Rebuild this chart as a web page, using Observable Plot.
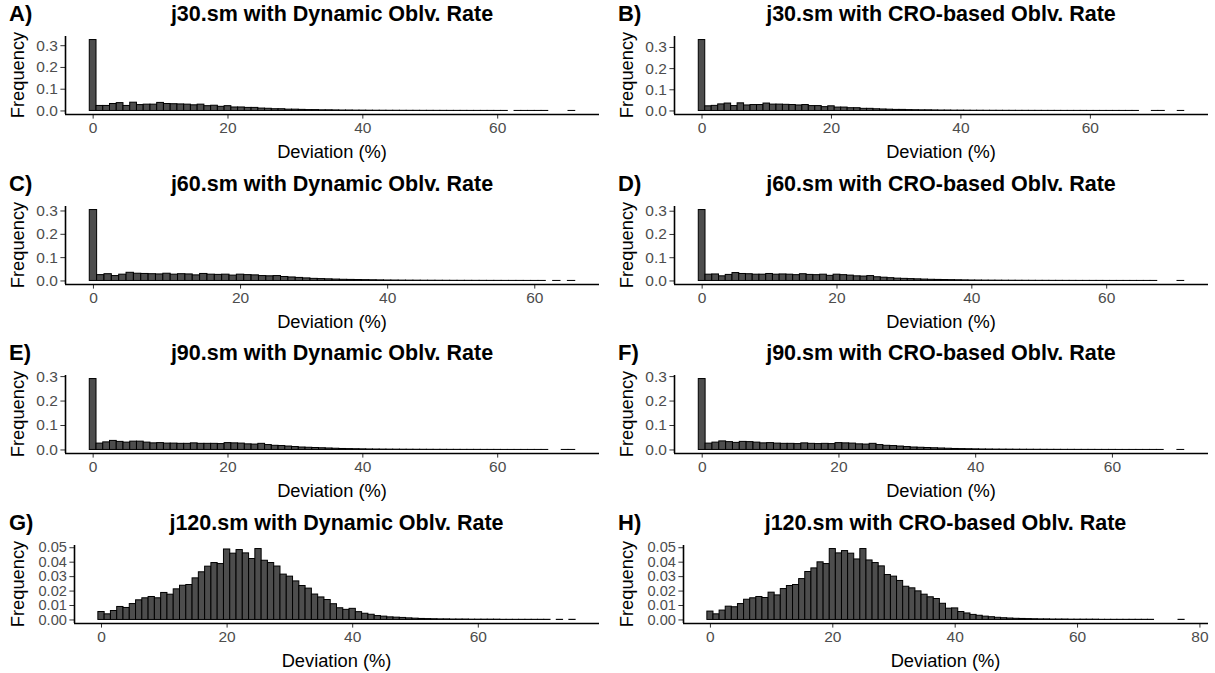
<!DOCTYPE html>
<html>
<head>
<meta charset="utf-8">
<script src="https://cdn.jsdelivr.net/npm/d3@7"></script>
<script src="https://cdn.jsdelivr.net/npm/@observablehq/plot@0.6"></script>
<style>
  body { margin: 0; background: #fff; font-family: "Liberation Sans", Arial, sans-serif; }
  #root { position: relative; width: 1215px; height: 673px; overflow: hidden; background: #fff; }
  .cell { position: absolute; height: 168px; }
  .cell svg { position: absolute; left: 0; top: 0; display: block; }
  .tag { position: absolute; font-weight: bold; font-size: 22px; line-height: 1; color: #000; }
  .title { position: absolute; font-weight: bold; font-size: 21.5px; line-height: 1; color: #000; transform: translateX(-50%); white-space: nowrap; }
  .xlab { position: absolute; font-size: 18.3px; line-height: 1; color: #000; transform: translate(-50%, -50%); white-space: nowrap; }
  .ylab { position: absolute; font-size: 18.3px; line-height: 1; color: #000; transform: translate(-50%, -50%) rotate(-90deg); white-space: nowrap; }
</style>
</head>
<body>
<div id="root"></div>
<script>
// ---- data: relative frequency per deviation bin (index = deviation %, null = no bar) ----
const freqA = [0.326,
  0.023,0.023,0.032,0.036,0.023,0.038,0.027,0.029,0.029,0.037,
  0.032,0.031,0.030,0.029,0.026,0.029,0.022,0.024,0.019,0.022,
  0.016,0.016,0.014,0.014,0.011,0.010,0.008,0.008,0.006,0.006,
  0.005,0.004,0.004,0.003,0.003,0.0025,0.002,0.002,0.0015,0.0015,
  0.0012,0.001,0.001,0.0008,0.0008,0.0007,0.0006,0.0006,0.0005,0.0005,
  0.0004,0.0004,0.0003,0.0003,0.0003,0.0002,0.0002,0.0002,0.0002,0.0001,
  0.0001,null,0.0001,0.0001,0.0001,0.0001,0.0001,null,null,null,
  0.0001];
const freqB = [0.335,
  0.022,0.024,0.031,0.035,0.023,0.036,0.026,0.028,0.028,0.035,
  0.030,0.030,0.029,0.028,0.026,0.028,0.023,0.023,0.018,0.022,
  0.016,0.016,0.013,0.013,0.010,0.010,0.008,0.007,0.006,0.005,
  0.005,0.004,0.0035,0.003,0.003,0.0025,0.002,0.002,0.0015,0.0015,
  0.0012,0.001,0.001,0.0008,0.0008,0.0007,0.0006,0.0006,0.0005,0.0005,
  0.0004,0.0004,0.0003,0.0003,0.0003,0.0002,0.0002,0.0002,0.0002,0.0001,
  0.0001,0.0001,0.0001,0.0001,0.0001,0.0001,0.0001,null,null,0.0001,
  0.0001,null,null,0.0001];
const freqC = [0.304,
  0.025,0.029,0.021,0.027,0.035,0.031,0.030,0.029,0.028,0.031,
  0.027,0.029,0.028,0.024,0.030,0.027,0.026,0.027,0.023,0.027,
  0.025,0.024,0.021,0.020,0.021,0.017,0.015,0.013,0.011,0.009,
  0.008,0.007,0.006,0.005,0.0045,0.004,0.0035,0.003,0.0025,0.002,
  0.0018,0.0015,0.0013,0.0012,0.001,0.0009,0.0008,0.0007,0.0006,0.0005,
  0.0005,0.0004,0.0004,0.0003,0.0003,0.0002,0.0002,0.0002,0.0001,0.0001,
  0.0001,null,0.0001,null,0.0001];
const freqD = [0.305,
  0.027,0.028,0.020,0.026,0.034,0.030,0.029,0.027,0.027,0.030,
  0.027,0.028,0.027,0.025,0.029,0.026,0.025,0.027,0.022,0.027,
  0.025,0.023,0.020,0.019,0.021,0.016,0.014,0.012,0.010,0.009,
  0.008,0.007,0.006,0.005,0.0045,0.004,0.0035,0.003,0.0025,0.002,
  0.0018,0.0015,0.0013,0.0012,0.001,0.0009,0.0008,0.0007,0.0006,0.0005,
  0.0005,0.0004,0.0004,0.0003,0.0003,0.0002,0.0002,0.0002,0.0002,0.0001,
  0.0001,0.0001,0.0001,0.0001,0.0001,0.0001,0.0001,null,null,null,
  0.0001];
const freqE = [0.290,
  0.026,0.031,0.037,0.033,0.030,0.034,0.034,0.030,0.027,0.028,
  0.026,0.026,0.025,0.025,0.027,0.025,0.025,0.025,0.024,0.028,
  0.027,0.026,0.023,0.022,0.025,0.020,0.017,0.016,0.014,0.012,
  0.010,0.009,0.008,0.007,0.006,0.005,0.004,0.0035,0.003,0.0025,
  0.002,0.0018,0.0015,0.0013,0.0012,0.001,0.0009,0.0008,0.0007,0.0006,
  0.0005,0.0005,0.0004,0.0004,0.0003,0.0003,0.0003,0.0002,0.0002,0.0002,
  0.0001,0.0001,0.0001,0.0001,0.0001,0.0001,0.0001,null,null,0.0001,
  0.0001];
const freqF = [0.290,
  0.026,0.030,0.035,0.032,0.029,0.033,0.032,0.030,0.027,0.028,
  0.026,0.025,0.025,0.024,0.027,0.025,0.024,0.025,0.024,0.028,
  0.027,0.026,0.023,0.022,0.025,0.020,0.017,0.016,0.014,0.012,
  0.010,0.009,0.008,0.007,0.006,0.005,0.004,0.0035,0.003,0.0025,
  0.002,0.0018,0.0015,0.0013,0.0012,0.001,0.0009,0.0008,0.0007,0.0006,
  0.0005,0.0005,0.0004,0.0004,0.0003,0.0003,0.0003,0.0002,0.0002,0.0002,
  0.0001,0.0001,0.0001,0.0001,0.0001,0.0001,0.0001,null,null,0.0001];
const freqG = [
  0.0055,0.0039,0.0062,0.0090,0.0083,0.0110,0.0136,0.0150,0.0159,0.0150,
  0.0187,0.0175,0.0212,0.0237,0.0242,0.0288,0.0330,0.0369,0.0394,0.0387,
  0.0488,0.0459,0.0484,0.0461,0.0422,0.0491,0.0410,0.0394,0.0370,0.0314,
  0.0300,0.0267,0.0235,0.0217,0.0176,0.0156,0.0138,0.0109,0.0081,0.0070,
  0.0077,0.0054,0.0043,0.0036,0.0027,0.0023,0.0018,0.0016,0.0014,0.0011,
  0.0009,0.0007,0.0006,0.0005,0.0004,0.0004,0.0003,0.0003,0.0003,0.0002,
  0.0002,0.0002,0.0002,0.0002,0.0001,0.0001,0.0001,0.0001,0.0001,0.0001,
  0.0001,0.0001,null,0.0001,null,0.0001];
const freqH = [
  0.0058,0.0039,0.0065,0.0092,0.0088,0.0110,0.0140,0.0150,0.0159,0.0152,
  0.0189,0.0170,0.0214,0.0235,0.0242,0.0283,0.0332,0.0357,0.0399,0.0387,
  0.0491,0.0461,0.0477,0.0459,0.0419,0.0491,0.0412,0.0394,0.0371,0.0311,
  0.0300,0.0270,0.0230,0.0219,0.0198,0.0175,0.0157,0.0145,0.0112,0.0078,
  0.0080,0.0055,0.0045,0.0035,0.0029,0.0023,0.0019,0.0015,0.0012,0.0010,
  0.0008,0.0007,0.0006,0.0005,0.0004,0.0004,0.0003,0.0003,0.0003,0.0002,
  0.0002,0.0002,0.0002,0.0002,0.0001,0.0001,0.0001,0.0001,0.0001,0.0001,
  0.0001,0.0001,0.0001,null,null,null,null,0.0001];

const tags   = ["A)","B)","C)","D)","E)","F)","G)","H)"];
const titles = ["j30.sm with Dynamic Oblv. Rate","j30.sm with CRO-based Oblv. Rate",
                "j60.sm with Dynamic Oblv. Rate","j60.sm with CRO-based Oblv. Rate",
                "j90.sm with Dynamic Oblv. Rate","j90.sm with CRO-based Oblv. Rate",
                "j120.sm with Dynamic Oblv. Rate","j120.sm with CRO-based Oblv. Rate"];
const series = [freqA,freqB,freqC,freqD,freqE,freqF,freqG,freqH];
const xTicks = [0,20,40,60];
const xTicksH = [0,20,40,60,80];
const yTicksBig = [0,0.1,0.2,0.3];
const yTicksSmall = [0,0.01,0.02,0.03,0.04,0.05];
const xTitle = "Deviation (%)";
const yTitle = "Frequency";

// ---- layout ----
const root = document.getElementById("root");
const rowTop = [0, 169.5, 339, 508.5];
const colLeft = [0, 609];
const colWidth = [607, 606];
const H = 168, MT = 36, MB = 54;

function panel(i) {
  const freq = series[i];
  const row = Math.floor(i / 2), col = i % 2;
  const small = row === 3;
  const ml = small ? 74 : 65;
  const w = colWidth[col];
  const mr = w - 599;
  const data = freq.map((f, k) => ({bin: k, freq: f})).filter(d => d.freq != null);
  const x0 = d3.min(data, d => d.bin) - 0.5, x1 = d3.max(data, d => d.bin) + 0.5;
  const ex = (x1 - x0) * 0.05;
  const ymax = d3.max(data, d => d.freq);
  const xd = [x0 - ex, x1 + ex], yd = [-0.05 * ymax, 1.05 * ymax];

  const svg = Plot.plot({
    width: w, height: H, marginLeft: ml, marginRight: mr, marginTop: MT, marginBottom: MB,
    style: {fontFamily: "'Liberation Sans', Arial, sans-serif", fontSize: "15.5px", color: "#4d4d4d", background: "transparent", overflow: "visible"},
    x: {domain: xd},
    y: {domain: yd},
    marks: [
      Plot.rect(data, {x1: d => d.bin - 0.5, x2: d => d.bin + 0.5, y1: d => 0, y2: "freq",
        fill: "#4d4d4d", stroke: "#000", strokeWidth: 1}),
      Plot.axisX({ticks: i === 7 ? xTicksH : xTicks, tickSize: 4.6, tickPadding: 3, label: null, stroke: "#333", fill: "#4d4d4d"}),
      Plot.axisY({ticks: small ? yTicksSmall : yTicksBig, tickFormat: d3.format(small ? ".2f" : ".1f"),
        tickSize: 4.6, tickPadding: 3, label: null, stroke: "#333", fill: "#4d4d4d",
        fontSize: small ? 14.6 : 15.5}),
      Plot.ruleY([yd[0]], {stroke: "#000", strokeWidth: 1.6}),
      Plot.ruleX([xd[0]], {stroke: "#000", strokeWidth: 1.6})
    ]
  });

  const cell = document.createElement("div");
  cell.className = "cell";
  cell.style.left = colLeft[col] + "px";
  cell.style.top = rowTop[row] + "px";
  cell.style.width = w + "px";
  cell.appendChild(svg);

  const cx = (ml + 599) / 2;
  const tag = document.createElement("div");
  tag.className = "tag"; tag.textContent = tags[i];
  tag.style.left = "9px"; tag.style.top = "3px";
  const title = document.createElement("div");
  title.className = "title"; title.textContent = titles[i];
  title.style.left = cx + "px"; title.style.top = "4px";
  const xl = document.createElement("div");
  xl.className = "xlab"; xl.textContent = xTitle;
  xl.style.left = cx + "px"; xl.style.top = "152px";
  const yl = document.createElement("div");
  yl.className = "ylab"; yl.textContent = yTitle;
  yl.style.left = "18px"; yl.style.top = ((MT + (H - MB)) / 2) + "px";
  cell.append(tag, title, xl, yl);
  root.appendChild(cell);
}
for (let i = 0; i < 8; i++) panel(i);
</script>
</body>
</html>
